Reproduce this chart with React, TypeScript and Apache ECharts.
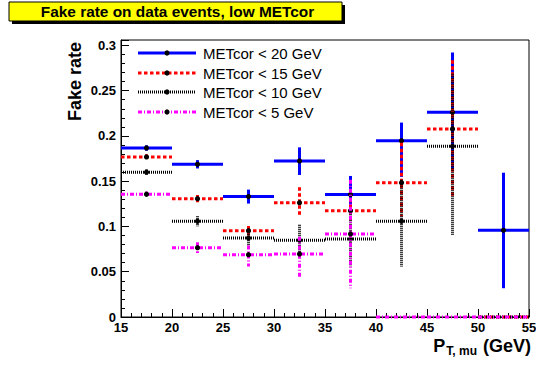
import React, { useEffect, useRef } from "react";
import * as echarts from "echarts";

// ---- data ----
const binCenters = [17.5, 22.5, 27.5, 32.5, 37.5, 42.5, 47.5, 52.5];
const binHalfWidth = 2.5;

const met20 = [0.1867, 0.1687, 0.133, 0.1724, 0.1352, 0.1948, 0.2262, 0.0958];
const met20ErrUp = [0.003, 0.0046, 0.0077, 0.015, 0.0206, 0.02, 0.066, 0.0636];
const met20ErrDown = [0.003, 0.0046, 0.0077, 0.0155, 0.013, 0.04, 0.064, 0.064];

const met15 = [0.1768, 0.1307, 0.0954, 0.1263, 0.1175, 0.1484, 0.2077, 0];
const met15ErrUp = [0.003, 0.004, 0.005, 0.0169, 0.013, 0.044, 0.076, 0];
const met15ErrDown = [0.003, 0.004, 0.006, 0.016, 0.013, 0.037, 0.075, 0];

const met10 = [0.16, 0.1057, 0.0873, 0.0848, 0.0862, 0.1057, 0.1886, 0];
const met10ErrUp = [0.003, 0.0057, 0.009, 0.017, 0.03, 0.046, 0.08, 0];
const met10ErrDown = [0.003, 0.0057, 0.009, 0.017, 0.03, 0.05, 0.098, 0];

const met5 = [0.1356, 0.0766, 0.0689, 0.0696, 0.0917, 0, 0, 0];
const met5ErrUp = [0.003, 0.006, 0.01, 0.019, 0.06, 0, 0, 0];
const met5ErrDown = [0.003, 0.006, 0.013, 0.025, 0.06, 0, 0, 0];

const seriesNames = ["METcor < 20 GeV", "METcor < 15 GeV", "METcor < 10 GeV", "METcor < 5 GeV"];
const titleText = "Fake rate on data events, low METcor";

const FONT = "'Liberation Sans', Arial, Helvetica, sans-serif";

const styles = [
  { color: "#0000ff", dash: null as number[] | null },
  { color: "#ff0000", dash: [3.5, 2.5] },
  { color: "#000000", dash: [1, 1] },
  { color: "#ff00ff", dash: [4, 2, 1, 2] },
];

function makeSeries(name: string, vals: number[], up: number[], down: number[], idx: number) {
  const st = styles[idx];
  const data = binCenters.map((c, i) => [c, vals[i], up[i], down[i]]);
  return {
    type: "custom",
    name,
    xAxisIndex: 0,
    yAxisIndex: 0,
    z: 10 + idx,
    encode: { x: 0, y: 1 },
    data,
    renderItem: (_params: any, api: any) => {
      const x = api.value(0);
      const y = api.value(1);
      const eu = api.value(2);
      const ed = api.value(3);
      const lineStyle: any = { stroke: st.color, lineWidth: 3, fill: null };
      if (st.dash) lineStyle.lineDash = st.dash;
      const pL = api.coord([x - binHalfWidth, y]);
      const pR = api.coord([x + binHalfWidth, y]);
      const children: any[] = [
        { type: "line", shape: { x1: pL[0], y1: pL[1], x2: pR[0], y2: pR[1] }, style: lineStyle },
      ];
      if (eu + ed > 0) {
        const pT = api.coord([x, y + eu]);
        const pB = api.coord([x, y - ed]);
        children.push({ type: "line", shape: { x1: pT[0], y1: pT[1], x2: pB[0], y2: pB[1] }, style: lineStyle });
      }
      if (y > 0) {
        const pc = api.coord([x, y]);
        children.push({ type: "circle", shape: { cx: pc[0], cy: pc[1], r: 2.6 }, style: { fill: "#000" } });
      }
      return { type: "group", children };
    },
  };
}

export default function App() {
  const ref = useRef<HTMLDivElement>(null);
  useEffect(() => {
    if (!ref.current) return;
    const chart = echarts.init(ref.current, undefined, { renderer: "svg" });

    const legendRows = [53, 73, 92, 112];
    const legendGraphics: any[] = [];
    seriesNames.forEach((n, i) => {
      const st = styles[i];
      const y = legendRows[i];
      const ls: any = { stroke: st.color, lineWidth: 3, fill: null };
      if (st.dash) ls.lineDash = st.dash;
      legendGraphics.push({ type: "line", shape: { x1: 138, y1: y, x2: 196, y2: y }, style: ls, z: 50 });
      legendGraphics.push({ type: "circle", shape: { cx: 167, cy: y, r: 2.6 }, style: { fill: "#000" }, z: 51 });
      legendGraphics.push({
        type: "text",
        x: 203,
        y,
        style: { text: n, font: `15px ${FONT}`, fill: "#000", textVerticalAlign: "middle", verticalAlign: "middle" },
        z: 51,
      });
    });

    const option: any = {
      animation: false,
      backgroundColor: "#ffffff",
      grid: { left: 121, right: 7, top: 40, bottom: 50, show: true, borderColor: "#000", borderWidth: 1, backgroundColor: "transparent", containLabel: false, outerBoundsMode: "none" },
      xAxis: [
        {
          type: "value",
          position: "bottom",
          min: 15,
          max: 55,
          interval: 5,
          splitLine: { show: false },
          axisLine: { show: true, onZero: false, lineStyle: { color: "#000", width: 1 } },
          axisTick: { show: true, inside: true, length: 8, lineStyle: { color: "#000" } },
          axisLabel: { show: true, margin: 4, color: "#000", fontFamily: FONT, fontWeight: "bold", fontSize: 13 },
          name: "{p|P}{s|T, mu}{p| (GeV)}",
          nameLocation: "end",
          nameGap: 2,
          nameTextStyle: {
            align: "right",
            verticalAlign: "top",
            padding: [18, 0, 0, 0],
            rich: {
              p: { fontFamily: FONT, fontWeight: "bold", fontSize: 18, color: "#000", lineHeight: 22, verticalAlign: "middle" },
              s: { fontFamily: FONT, fontWeight: "bold", fontSize: 12, color: "#000", lineHeight: 22, verticalAlign: "bottom", padding: [0, 1, 0, 1] },
            },
          },
        },
        {
          type: "value",
          position: "bottom",
          min: 15,
          max: 55,
          interval: 1,
          splitLine: { show: false },
          axisLine: { show: false },
          axisTick: { show: true, inside: true, length: 4, lineStyle: { color: "#000" } },
          axisLabel: { show: false },
        },
      ],
      yAxis: [
        {
          type: "value",
          position: "left",
          min: 0,
          max: 0.306,
          interval: 0.05,
          splitLine: { show: false },
          axisLine: { show: true, onZero: false, lineStyle: { color: "#000", width: 1 } },
          axisTick: { show: true, inside: true, length: 8, lineStyle: { color: "#000" } },
          axisLabel: {
            show: true,
            margin: 5,
            color: "#000",
            fontFamily: FONT,
            fontWeight: "bold",
            fontSize: 13,
            formatter: (v: number) => {
              const k = v / 0.05;
              if (Math.abs(k - Math.round(k)) > 1e-6) return "";
              if (Math.abs(v) < 1e-9) return "0";
              return String(+v.toFixed(2));
            },
          },
          name: "Fake rate",
          nameLocation: "end",
          nameGap: -2,
          nameRotate: 90,
          nameTextStyle: {
            align: "right",
            verticalAlign: "bottom",
            padding: [0, 0, 37, 0],
            fontFamily: FONT,
            fontWeight: "bold",
            fontSize: 18,
            color: "#000",
          },
        },
        {
          type: "value",
          position: "left",
          min: 0,
          max: 0.306,
          interval: 0.01,
          splitLine: { show: false },
          axisLine: { show: false },
          axisTick: { show: true, inside: true, length: 4, lineStyle: { color: "#000" } },
          axisLabel: { show: false },
        },
      ],
      series: [
        makeSeries(seriesNames[0], met20, met20ErrUp, met20ErrDown, 0),
        makeSeries(seriesNames[1], met15, met15ErrUp, met15ErrDown, 1),
        makeSeries(seriesNames[2], met10, met10ErrUp, met10ErrDown, 2),
        makeSeries(seriesNames[3], met5, met5ErrUp, met5ErrDown, 3),
      ],
      graphic: [
        { type: "rect", shape: { x: 12, y: 5, width: 333, height: 19 }, style: { fill: "#000" }, z: 100 },
        { type: "rect", shape: { x: 9, y: 2, width: 333, height: 19 }, style: { fill: "#ffff00", stroke: "#000", lineWidth: 1 }, z: 101 },
        {
          type: "text",
          x: 177.5,
          y: 11.5,
          z: 102,
          style: { text: titleText, font: `bold 15.4px ${FONT}`, fill: "#000", textAlign: "center", align: "center", textVerticalAlign: "middle", verticalAlign: "middle" },
        },
        ...legendGraphics,
      ],
    };
    chart.setOption(option);
    return () => chart.dispose();
  }, []);
  return <div ref={ref} style={{ position: "fixed", left: 0, top: 0, width: 536, height: 367 }} />;
}
